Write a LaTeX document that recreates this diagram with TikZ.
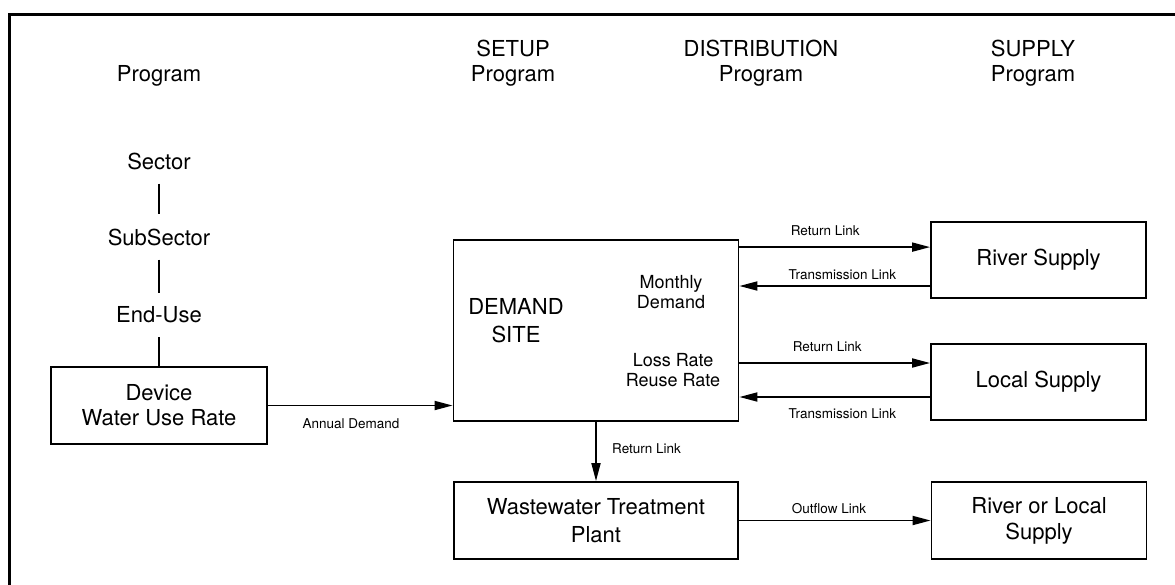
\documentclass[tikz,border=0pt]{standalone}
\usepackage{fontspec}
\setmainfont{TeX Gyre Heros}
\usetikzlibrary{arrows.meta, positioning}

\begin{document}
\begin{tikzpicture}
    [>={Triangle[length=18pt, width=9pt]}, x=1pt, y=1pt, line width=1.8pt,
    frame/.style={draw=black, line width=3pt}]
    % Define styles for blocks, titles and link labels
    \tikzstyle{big} = [font=\fontsize{22}{25}\selectfont, align=center]
    \tikzstyle{mid} = [font=\fontsize{18}{20.5}\selectfont, align=center]
    \tikzstyle{small} = [font=\fontsize{13.5}{15}\selectfont]
    \tikzstyle{block} = [draw, fill=white, rectangle, minimum height=77pt, minimum width=215pt, big]
    \tikzstyle{tie} = [shorten <=10pt, shorten >=10pt]

    \useasboundingbox (0,0) rectangle (1175,-584);

    % Frame round the whole figure (cut at the right and at the bottom)
    \draw[frame] (9,-600) |- (1190,-14);

    % Program titles
    \node [big] (prog) at (159,-76) {Program};
    \node [big] (setup) at (513,-63) {SETUP\\Program};
    \node [big, right of=setup, node distance=248pt] (distrib) {DISTRIBUTION\\Program};
    \node [big, right of=distrib, node distance=272pt] (supply) {SUPPLY\\Program};

    % Sector chain
    \node [big] (sector) at (159,-161) {Sector};
    \node [big, below of=sector, node distance=76pt] (subsector) {SubSector};
    \node [big, below of=subsector, node distance=78pt] (enduse) {End-Use};
    \node [block, below of=enduse, node distance=90.5pt, minimum width=216pt] (device) {Device\\Water Use Rate};

    % Demand site with its texts
    \node [block, minimum width=285pt, minimum height=181pt] (demand) at (596,-330.5) {};
    \node [big, font=\fontsize{22}{28}\selectfont] (demandname) at ([shift={(-80,9.5)}]demand.center) {DEMAND\\SITE};
    \node [mid] (monthly) at ([shift={(75,38.5)}]demand.center) {Monthly\\Demand};
    \node [mid] (rates) at ([shift={(77,-39.5)}]demand.center) {Loss Rate\\Reuse Rate};
    \node [block, below of=demand, node distance=190pt, minimum width=284pt, font=\fontsize{22}{28}\selectfont] (wwtp) {Wastewater Treatment\\Plant};

    % Supply boxes
    \node [block, minimum height=76pt] (river) at (1038.5,-260) {River Supply};
    \node [block, below of=river, node distance=122pt, minimum height=76pt] (local) {Local Supply};
    \node [block, right of=wwtp, node distance=443pt, font=\fontsize{22}{26}\selectfont] (riverlocal) {River or Local\\Supply};

    % Link end points
    \coordinate (ret1) at ([yshift=-8pt]demand.north east);
    \coordinate (trans1) at ([yshift=-26pt]river.west);
    \coordinate (ret2) at ([yshift=19pt]local.west);
    \coordinate (trans2) at ([yshift=-15pt]local.west);

    % Draw edges
    \draw[tie] (sector) -- (subsector);
    \draw[tie] (subsector) -- (enduse);
    \draw[shorten <=10pt] (enduse) -- (device);
    \draw[->] (device.east) -- node[small, below=9pt, pos=0.45] {Annual Demand} (device.east -| demand.west);
    \draw[->] (ret1) -- node[small, above=7.5pt, pos=0.45] {Return Link} (ret1 -| river.west);
    \draw[->] (trans1) -- node[small, above=2.5pt, pos=0.46] {Transmission Link} (trans1 -| demand.east);
    \draw[->] (ret2 -| demand.east) -- node[small, above=7.5pt, pos=0.46] {Return Link} (ret2);
    \draw[->] (trans2) -- node[small, below=7.5pt, pos=0.46] {Transmission Link} (trans2 -| demand.east);
    \draw[->] (demand.south) -- node[small, right=12pt, pos=0.46] {Return Link} (wwtp.north);
    \draw[->] (wwtp) -- node[small, above=3pt, pos=0.47] {Outflow Link} (riverlocal);
\end{tikzpicture}
\end{document}
